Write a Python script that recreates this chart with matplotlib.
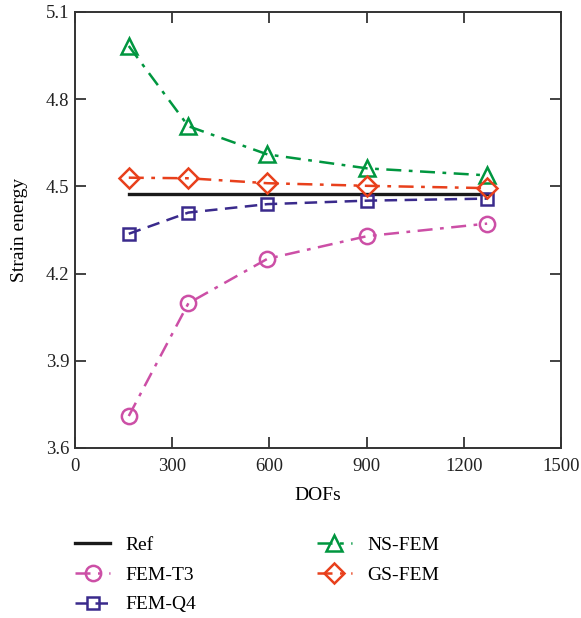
import numpy as np
import matplotlib
matplotlib.use('Agg')
import matplotlib.pyplot as plt

plt.rcParams['font.family'] = ['Liberation Serif', 'DejaVu Serif']

dofs = [166, 350, 594, 902, 1272]
ref = [4.475, 4.475, 4.475, 4.475, 4.475]
fem_t3 = [3.710, 4.098, 4.251, 4.329, 4.372]
fem_q4 = [4.337, 4.410, 4.439, 4.451, 4.458]
ns_fem = [4.983, 4.707, 4.610, 4.562, 4.538]
gs_fem = [4.530, 4.528, 4.511, 4.502, 4.494]

fig = plt.figure(figsize=(5.81, 6.18), dpi=100)
# axes box: x 75..561 px, y 12..448 px
ax = fig.add_axes([75/581, 1 - 448/618, 486/581, 436/618])

dashdot = (0, (6, 3, 1.5, 3))
ax.plot(dofs, ref, color='#1a1a1a', lw=2.4, label='Ref')
ax.plot(dofs, fem_t3, color='#cc4fa6', lw=1.8, ls=dashdot, marker='o',
        ms=11, mfc='none', mew=1.8, label='FEM-T3')
ax.plot(dofs, fem_q4, color='#3a2a8c', lw=1.8, ls=(0, (5, 3)), marker='s',
        ms=9, mfc='none', mew=1.8, label='FEM-Q4')
ax.plot(dofs, ns_fem, color='#00963f', lw=1.8, ls=dashdot, marker='^',
        ms=12, mfc='none', mew=1.8, label='NS-FEM')
ax.plot(dofs, gs_fem, color='#e8401c', lw=1.8, ls=dashdot, marker='D',
        ms=10, mfc='none', mew=1.8, label='GS-FEM')

ax.set_xlim(0, 1500)
ax.set_ylim(3.6, 5.1)
ax.set_xticks([0, 300, 600, 900, 1200, 1500])
ax.set_yticks([3.6, 3.9, 4.2, 4.5, 4.8, 5.1])
ax.tick_params(direction='in', length=8, width=1.2, labelsize=13.5, colors='#222222',
               top=True, right=True, pad=7)
ax.tick_params(axis='y', pad=4)
for s in ax.spines.values():
    s.set_linewidth(1.4)
    s.set_color('#333333')
ax.set_xlabel('DOFs', fontsize=14, labelpad=9)
ax.set_ylabel('Strain energy', fontsize=14, labelpad=13)

ax.legend(ncol=2, loc='upper left', bbox_to_anchor=(0, -0.203), frameon=False,
          borderaxespad=0, borderpad=0,
          fontsize=14, handlelength=1.8, handletextpad=0.8,
          columnspacing=6.2, labelspacing=0.62)

fig.savefig('out.png', dpi=100)
